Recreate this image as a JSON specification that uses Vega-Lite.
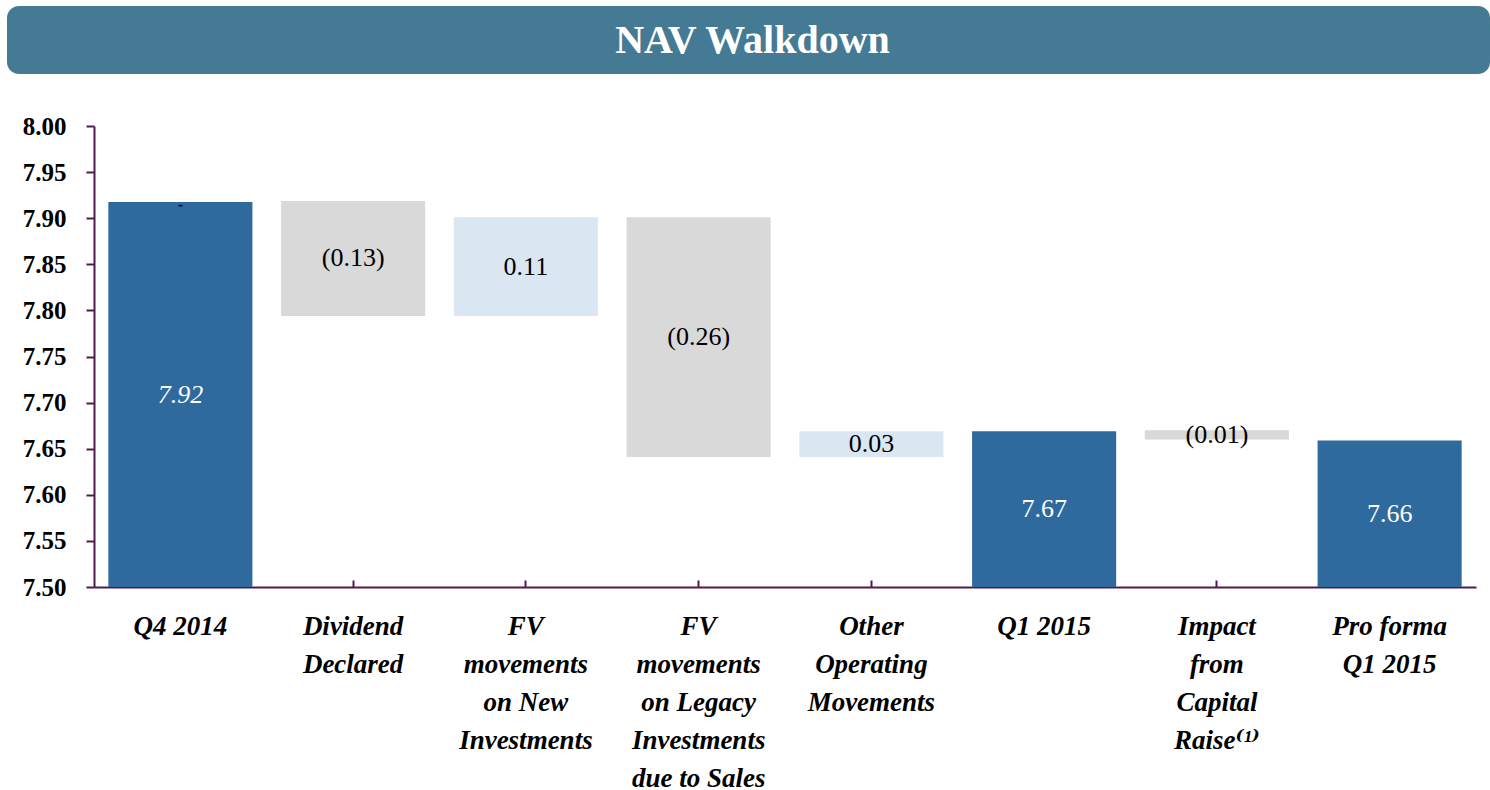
{
  "$schema": "https://vega.github.io/schema/vega-lite/v6.json",
  "padding": {"left": 7, "top": 6, "right": 0, "bottom": 0},
  "background": "white",
  "spacing": 52,
  "bounds": "flush",
  "config": {"view": {"stroke": null}, "font": "Liberation Serif"},
  "vconcat": [
    {
      "width": 1483,
      "height": 68,
      "view": {"fill": "#457A94", "stroke": null, "cornerRadius": 12},
      "data": {"values": [{"title": "NAV Walkdown"}]},
      "mark": {"type": "text", "font": "Liberation Serif", "fontSize": 40, "fontWeight": "bold", "color": "white", "baseline": "middle", "align": "center", "dy": 1, "dx": 4},
      "encoding": {"text": {"field": "title"}}
    },
    {
      "spacing": 0,
      "bounds": "flush",
      "hconcat": [
        {
          "width": 87,
          "height": 461,
          "data": {"values": []},
          "mark": {"type": "point"},
          "encoding": {}
        },
        {
          "width": 1382,
          "height": 461,
          "data": {"values": [
            {"step": "Q4 2014", "start": 7.50, "end": 7.9175, "label": "7.92", "type": "total", "note": "-"},
            {"step": "Dividend|Declared", "start": 7.9187, "end": 7.794, "label": "(0.13)", "type": "decrease"},
            {"step": "FV|movements|on New|Investments", "start": 7.794, "end": 7.901, "label": "0.11", "type": "increase"},
            {"step": "FV|movements|on Legacy|Investments|due to Sales", "start": 7.901, "end": 7.641, "label": "(0.26)", "type": "decrease"},
            {"step": "Other|Operating|Movements", "start": 7.641, "end": 7.669, "label": "0.03", "type": "increase"},
            {"step": "Q1 2015", "start": 7.50, "end": 7.669, "label": "7.67", "type": "total"},
            {"step": "Impact|from|Capital|Raise⁽¹⁾", "start": 7.670, "end": 7.660, "label": "(0.01)", "type": "decrease"},
            {"step": "Pro forma|Q1 2015", "start": 7.50, "end": 7.659, "label": "7.66", "type": "total"}
          ]},
          "encoding": {
            "x": {
              "field": "step", "type": "nominal", "sort": null,
              "scale": {"paddingInner": 0.166, "paddingOuter": 0.083},
              "axis": {
                "title": null, "labelAngle": 0,
                "labelExpr": "split(datum.value, '|')",
                "labelFont": "Liberation Serif, DejaVu Serif", "labelFontSize": 27, "labelFontWeight": "bold", "labelFontStyle": "italic",
                "labelColor": "black", "labelLineHeight": 38, "labelPadding": 33, "labelBaseline": "top",
                "tickSize": -7, "tickColor": "#4E1A50", "tickWidth": 2,
                "domainColor": "#4E1A50", "domainWidth": 2, "labelLimit": 300
              }
            }
          },
          "layer": [
            {
              "mark": {"type": "bar"},
              "encoding": {
                "y": {
                  "field": "start", "type": "quantitative",
                  "scale": {"domain": [7.5, 8.0], "zero": false, "nice": false, "clamp": true},
                  "axis": {
                    "title": null, "values": [7.5, 7.55, 7.6, 7.65, 7.7, 7.75, 7.8, 7.85, 7.9, 7.95, 8.0],
                    "format": ".2f", "grid": false,
                    "labelFont": "Liberation Serif", "labelFontSize": 25, "labelFontWeight": "bold", "labelColor": "black",
                    "labelPadding": 20, "tickSize": 8, "tickColor": "#4E1A50", "tickWidth": 2,
                    "domainColor": "#4E1A50", "domainWidth": 2
                  }
                },
                "y2": {"field": "end"},
                "color": {
                  "field": "type", "type": "nominal", "legend": null,
                  "scale": {"domain": ["total", "decrease", "increase"], "range": ["#2E6A9E", "#D9D9D9", "#DAE7F2"]}
                }
              }
            },
            {
              "transform": [
                {"filter": "datum.step != 'Q4 2014'"},
                {"fold": ["start", "end"], "as": ["k", "v"]},
                {"aggregate": [{"op": "mean", "field": "v", "as": "mid"}], "groupby": ["step", "label", "type"]}
              ],
              "mark": {"type": "text", "font": "Liberation Serif", "fontSize": 26, "baseline": "middle", "align": "center"},
              "encoding": {
                "y": {"field": "mid", "type": "quantitative"},
                "text": {"field": "label"},
                "color": {"condition": {"test": "datum.type == 'total'", "value": "white"}, "value": "black"}
              }
            },
            {
              "transform": [
                {"filter": "datum.step == 'Q4 2014'"},
                {"fold": ["start", "end"], "as": ["k", "v"]},
                {"aggregate": [{"op": "mean", "field": "v", "as": "mid"}], "groupby": ["step", "label", "type"]}
              ],
              "mark": {"type": "text", "font": "Liberation Serif", "fontSize": 26, "fontStyle": "italic", "baseline": "middle", "align": "center", "color": "white"},
              "encoding": {
                "y": {"field": "mid", "type": "quantitative"},
                "text": {"field": "label"}
              }
            },
            {
              "transform": [{"filter": "isValid(datum.note)"}],
              "mark": {"type": "text", "font": "Liberation Serif", "fontSize": 16, "fontWeight": "bold", "baseline": "middle", "align": "center", "color": "black", "dy": 3},
              "encoding": {
                "y": {"field": "end", "type": "quantitative"},
                "text": {"field": "note"}
              }
            }
          ]
        }
      ]
    }
  ]
}
